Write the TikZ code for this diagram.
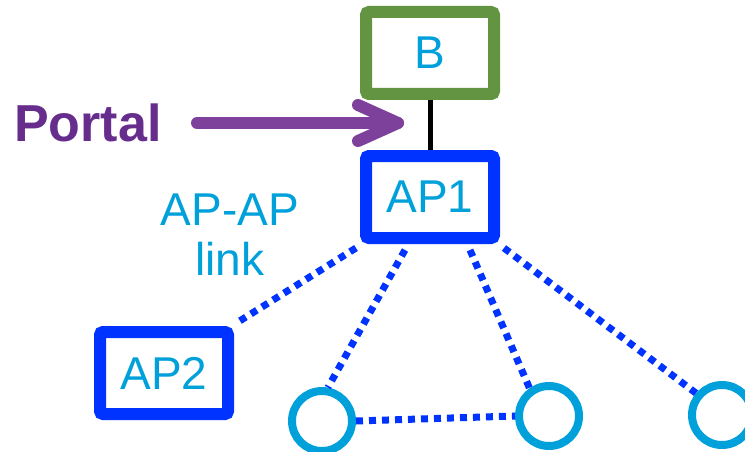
\documentclass[tikz,border=0pt]{standalone}
\usepackage{fontspec}
\setmainfont{Liberation Sans}
\definecolor{bgreen}{RGB}{98,148,66}
\definecolor{apblue}{RGB}{0,51,255}
\definecolor{txtcyan}{RGB}{0,160,218}
\definecolor{arrpurple}{RGB}{125,65,155}
\definecolor{portpurple}{RGB}{102,45,140}
\tikzset{
  boxnode/.style={draw, rectangle, rounded corners=3pt, line width=12pt, fill=white,
    text=txtcyan, font=\fontsize{46}{50}\selectfont, inner sep=0pt},
  stanode/.style={draw=txtcyan, circle, line width=8pt, minimum size=60pt, inner sep=0pt},
  aplink/.style={draw=apblue, line width=7pt, dash pattern=on 7pt off 6pt},
  portalarrow/.style={draw=arrpurple, line width=12pt, line cap=round, line join=round}
}
\begin{document}
\begin{tikzpicture}[x=1pt,y=-1pt]
\useasboundingbox (0,0) rectangle (745,452);
% links first (under nodes)
\node[boxnode, draw=bgreen, minimum width=128pt, minimum height=82pt] (B) at (430,53) {B};
\node[boxnode, draw=apblue, minimum width=128pt, minimum height=82pt] (AP1) at (430,197) {AP1};
\node[boxnode, draw=apblue, minimum width=128pt, minimum height=82pt] (AP2) at (164,373) {AP2};
\node[stanode] (S1) at (322,421) {};
\node[stanode] (S2) at (549,416) {};
\node[stanode] (S3) at (722,415) {};
\draw[line width=5pt, black] (B.south) -- (AP1.north);
\begin{scope}[on background layer/.style={}]
\draw[aplink] ([xshift=-4pt,yshift=-4pt]AP1.south west) -- ([xshift=4pt,yshift=4pt]AP2.north east);
\draw[aplink] ([xshift=-25pt,yshift=-6pt]AP1.south) -- (S1.80);
\draw[aplink] ([xshift=40pt,yshift=-6pt]AP1.south) -- (S2.125);
\draw[aplink] ([xshift=4pt,yshift=-4pt]AP1.south east) -- (S3.140);
\draw[aplink] (S1.east) -- (S2.west);
\end{scope}
% portal
\node[anchor=base west, inner sep=0pt, text=portpurple, font=\fontsize{52}{56}\selectfont\bfseries] (portal) at (14,142) {Portal};
\coordinate (tip) at (398,123);
\draw[portalarrow] (197,123) -- (tip);
\draw[portalarrow] (358,105) -- (tip) -- (358,141);
% label
\node[align=center, text=txtcyan, font=\fontsize{46}{50}\selectfont, inner sep=0pt] (lbl) at (230,235) {AP-AP\\link};
\end{tikzpicture}
\end{document}
